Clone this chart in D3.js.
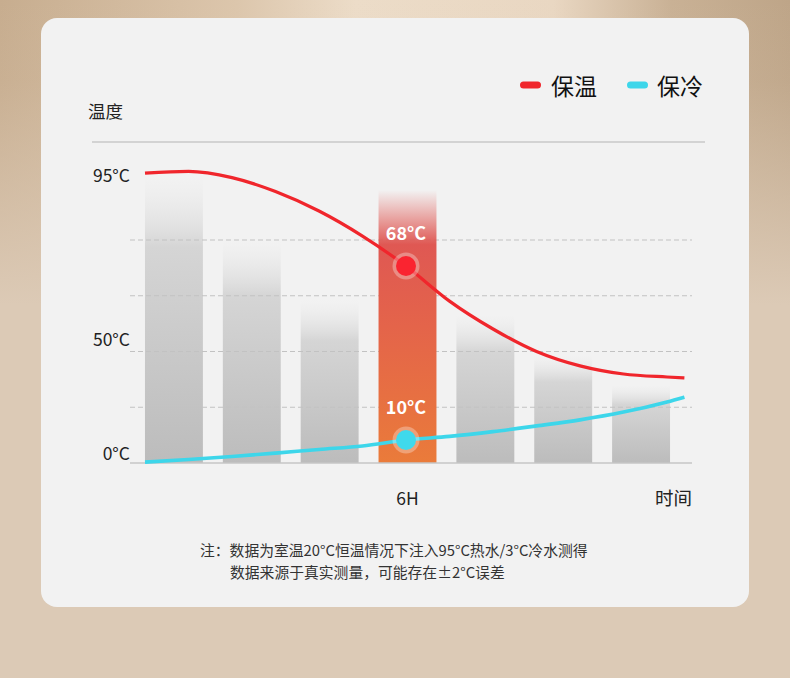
<!DOCTYPE html>
<html><head><meta charset="utf-8">
<script src="https://cdn.jsdelivr.net/npm/d3@7"></script>
<style>html,body{margin:0;padding:0;overflow:hidden;background:#dccab6;} svg{display:block;}</style>
</head><body><svg id="c" width="790" height="678"></svg>
<script>
// ---------- data ----------
const hours      = [0, 1, 2, 3, 4, 5, 6, 7, 8, 9, 10, 11, 12, 12.4];
const warmTemps  = [94.7, 95.2, 93.4, 89.4, 83.8, 76.6, 68, 56.3, 47, 39.5, 34.7, 32, 31, 30.7];
const coldTemps  = [0.4, 1.5, 2.8, 4.3, 5.9, 7.4, 10, 11.2, 12.8, 14.7, 16.7, 19.3, 22.7, 24.3];
const barCategories = ["0H", "2H", "4H", "6H", "8H", "10H", "12H"];
const barValues     = [94, 75.5, 56.7, 89.8, 51.7, 38.3, 28.3];
const highlightCategory = "6H";
const highlightHour = 6;
const highlightLabels = ["68°C", "10°C"];
const yTickValues = [0, 50, 95];
const yTickLabels = ["0°C", "50°C", "95°C"];
const gridIndex = [1, 2, 3, 4];
const seriesNames = ["保温", "保冷"];
const yTitle = "温度";
const xTitle = "时间";
const notes = ["注：数据为室温20°C恒温情况下注入95°C热水/3°C冷水测得", "数据来源于真实测量，可能存在±2°C误差"];

// ---------- setup ----------
const svg = d3.select("#c");
const FONT = "'Noto Sans CJK SC','Noto Sans',sans-serif";
const RED = "#f0262c", CYAN = "#3dd6ea";
const defs = svg.append("defs");

function grad(id, dir, stops) {
  const g = defs.append("linearGradient").attr("id", id);
  if (dir === "h") g.attr("x1", 0).attr("y1", 0).attr("x2", 1).attr("y2", 0);
  else g.attr("x1", 0).attr("y1", 0).attr("x2", 0).attr("y2", 1);
  stops.forEach(s => g.append("stop").attr("offset", s[0]).attr("stop-color", s[1]).attr("stop-opacity", s[2] == null ? 1 : s[2]));
}
grad("bgH", "h", [[0, "#c7ad8f"], [0.3, "#dcc6ac"], [0.45, "#ecdcc8"], [0.7, "#e9d7c2"], [0.85, "#c9b195"], [1, "#bea588"]]);
grad("bgV", "v", [[0, "#dccab6", 0], [0.12, "#dccab6", 0.1], [0.45, "#dccab6", 1], [1, "#dccab6", 1]]);
grad("barG", "v", [[0, "#e8e8e8", 0], [0.25, "#d5d5d5", 1], [1, "#bcbcbc", 1]]);
grad("hiG", "v", [[0, "#e05a56", 0], [0.2, "#df5853", 1], [0.5, "#e4644a", 1], [1, "#ea7b3a", 1]]);

svg.append("rect").attr("width", 790).attr("height", 678).attr("fill", "url(#bgH)");
svg.append("rect").attr("width", 790).attr("height", 678).attr("fill", "url(#bgV)");
svg.append("rect").attr("x", 41).attr("y", 18).attr("width", 708).attr("height", 589).attr("rx", 16).attr("fill", "#f2f2f2");

// ---------- scales ----------
const x = d3.scaleLinear().domain([0, 12]).range([145, 667]);
const band = d3.scaleBand().domain(barCategories).range([135, 680]).paddingInner(0.256).paddingOuter(0.128);
const y = d3.scaleLinear().domain([0, 10, 68, 95]).range([463, 440, 266, 172]);
const yLabel = d3.scaleLinear().domain([0, 50, 95]).range([452, 338, 174]);
const grid = d3.scaleLinear().domain([0, 4]).range([463, 240]);

// frame line + titles
svg.append("line").attr("x1", 92).attr("x2", 705).attr("y1", 142).attr("y2", 142).attr("stroke", "#b4b4b4").attr("stroke-width", 1);
svg.append("text").attr("x", 88).attr("y", 110).attr("dominant-baseline", "central")
  .attr("font-family", FONT).attr("font-size", 17.5).attr("fill", "#222").text(yTitle);

// legend
const legend = svg.append("g");
[[RED, 520, 551], [CYAN, 627, 657]].forEach((l, i) => {
  legend.append("rect").attr("x", l[1]).attr("y", 81.5).attr("width", 21).attr("height", 7).attr("rx", 3.5).attr("fill", l[0]);
  legend.append("text").attr("x", l[2]).attr("y", 85).attr("dominant-baseline", "central")
    .attr("font-family", FONT).attr("font-size", 23).attr("fill", "#111").text(seriesNames[i]);
});

// gray bars
const barData = barCategories.map((c, i) => ({c, v: barValues[i]}));
svg.append("g").selectAll("rect").data(barData.filter(d => d.c !== highlightCategory)).join("rect")
  .attr("x", d => band(d.c)).attr("width", band.bandwidth())
  .attr("y", d => y(d.v)).attr("height", d => y(0) - y(d.v))
  .attr("fill", "url(#barG)");

// gridlines
svg.append("g").selectAll("line").data(gridIndex).join("line")
  .attr("x1", 130).attr("x2", 692).attr("y1", d => grid(d)).attr("y2", d => grid(d))
  .attr("stroke", "#c2c2c2").attr("stroke-width", 1).attr("stroke-dasharray", "5,3");

// highlighted bar
svg.append("g").selectAll("rect").data(barData.filter(d => d.c === highlightCategory)).join("rect")
  .attr("x", d => band(d.c)).attr("width", band.bandwidth())
  .attr("y", d => y(d.v)).attr("height", d => y(0) - y(d.v))
  .attr("fill", "url(#hiG)");

// baseline
svg.append("line").attr("x1", 130).attr("x2", 692).attr("y1", y(0)).attr("y2", y(0)).attr("stroke", "#c6c6c6").attr("stroke-width", 1.5);

// y tick labels
svg.append("g").selectAll("text").data(yTickValues).join("text")
  .attr("x", 130).attr("y", d => yLabel(d)).attr("text-anchor", "end").attr("dominant-baseline", "central")
  .attr("font-family", FONT).attr("font-size", 17.5).attr("fill", "#222")
  .text((d, i) => yTickLabels[i]);

// x labels
svg.append("text").attr("x", band(highlightCategory) + band.bandwidth() / 2).attr("y", 497)
  .attr("text-anchor", "middle").attr("dominant-baseline", "central")
  .attr("font-family", FONT).attr("font-size", 17.5).attr("fill", "#222").text(highlightCategory);
svg.append("text").attr("x", 692).attr("y", 497).attr("text-anchor", "end").attr("dominant-baseline", "central")
  .attr("font-family", FONT).attr("font-size", 18.5).attr("fill", "#222").text(xTitle);

// lines
const line = d3.line().x(d => x(d[0])).y(d => y(d[1])).curve(d3.curveMonotoneX);
svg.append("path").datum(hours.map((h, i) => [h, warmTemps[i]])).attr("d", line)
  .attr("fill", "none").attr("stroke", RED).attr("stroke-width", 3.2).attr("stroke-linecap", "butt");
svg.append("path").datum(hours.map((h, i) => [h, coldTemps[i]])).attr("d", line)
  .attr("fill", "none").attr("stroke", CYAN).attr("stroke-width", 3.6).attr("stroke-linecap", "butt");

// highlight points
const hi = hours.indexOf(highlightHour);
const pts = [{v: warmTemps[hi], c: "#fa2430", label: highlightLabels[0]}, {v: coldTemps[hi], c: "#3fd9ec", label: highlightLabels[1]}];
const pg = svg.append("g");
pts.forEach(p => {
  pg.append("circle").attr("cx", x(highlightHour)).attr("cy", y(p.v)).attr("r", 13.5).attr("fill", "#ffffff").attr("fill-opacity", 0.3);
  pg.append("circle").attr("cx", x(highlightHour)).attr("cy", y(p.v)).attr("r", 10).attr("fill", p.c);
  pg.append("text").attr("x", x(highlightHour)).attr("y", y(p.v) - 34).attr("text-anchor", "middle").attr("dominant-baseline", "central")
    .attr("font-family", FONT).attr("font-size", 18).attr("font-weight", "bold").attr("fill", "#fff").text(p.label);
});

// notes
svg.append("text").attr("x", 200).attr("y", 549).attr("dominant-baseline", "central")
  .attr("font-family", FONT).attr("font-size", 14.8).attr("fill", "#333").text(notes[0]);
svg.append("text").attr("x", 230).attr("y", 571).attr("dominant-baseline", "central")
  .attr("font-family", FONT).attr("font-size", 14.8).attr("fill", "#333").text(notes[1]);
</script></body></html>
